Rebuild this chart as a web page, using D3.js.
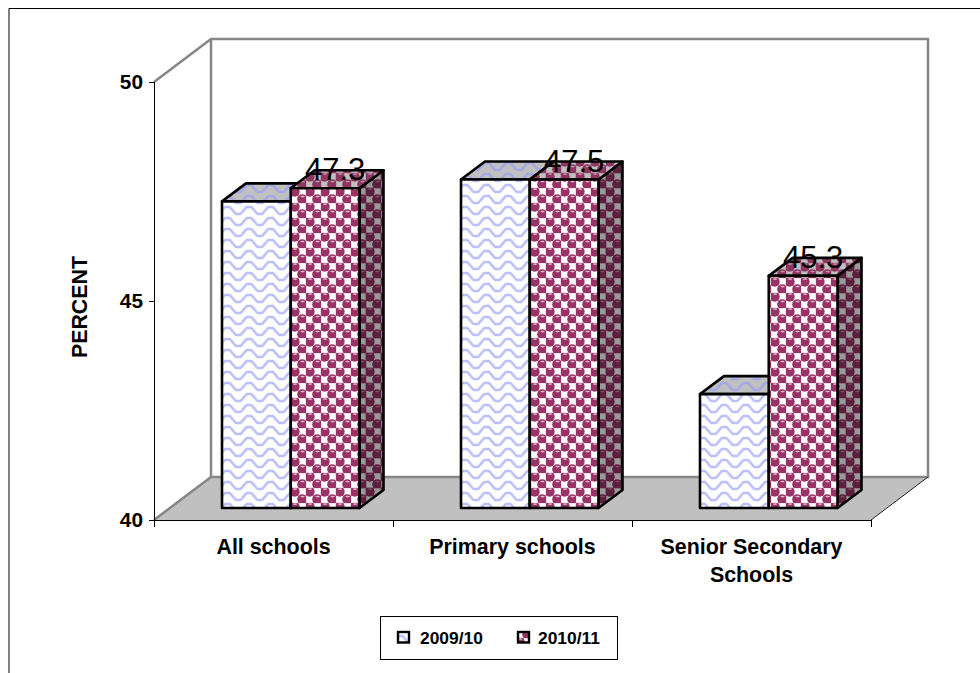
<!DOCTYPE html>
<html>
<head>
<script src="https://cdn.jsdelivr.net/npm/d3@7/dist/d3.min.js"></script>
<style>
  html, body { margin: 0; padding: 0; background: #fff; }
  svg { display: block; }
  text { font-family: "Liberation Sans", Arial, sans-serif; fill: #000; }
  .bold { font-weight: bold; font-size: 21.4px; }
  .tick text { font-weight: bold; font-size: 20.8px; }
  .legendText { font-weight: bold; font-size: 17.4px; }
</style>
</head>
<body>
<svg id="chart" width="980" height="673"></svg>
<script>
const categories = ["All schools", "Primary schools", "Senior Secondary Schools"];
const seriesNames = ["2009/10", "2010/11"];
const values0910 = [47.0, 47.5, 42.6];
const values1011 = [47.3, 47.5, 45.3];
const valueLabels = ["47.3", "47.5", "45.3"];
const yTicks = [40, 45, 50];

const svg = d3.select("#chart");
const defs = svg.append("defs");

function wavePattern(id, bg, stroke) {
  let p = defs.append("pattern").attr("id", id).attr("patternUnits", "userSpaceOnUse")
    .attr("x", 222).attr("y", 205).attr("width", 21.6).attr("height", 11);
  p.append("rect").attr("width", 21.6).attr("height", 11).attr("fill", bg);
  p.append("path").attr("d", "M-5.4,9 L-3,9 L3,2 L7.8,2 L13.8,9 L18.6,9 L24.6,2 L27,2")
    .attr("fill", "none").attr("stroke", stroke).attr("stroke-width", 2.6).attr("stroke-linejoin", "round");
}
function ballPattern(id, bg, square, ball, hi) {
  let p = defs.append("pattern").attr("id", id).attr("patternUnits", "userSpaceOnUse")
    .attr("x", 291).attr("y", 188).attr("width", 15).attr("height", 15);
  p.append("rect").attr("width", 15).attr("height", 15).attr("fill", bg);
  [[11.2, 3.7], [3.7, 11.2]].forEach(c => {
    p.append("rect").attr("x", c[0] - 3.3).attr("y", c[1] - 3.3).attr("width", 6.6).attr("height", 6.6).attr("fill", square);
  });
  [[3.7, 3.7], [11.2, 11.2]].forEach(c => {
    p.append("circle").attr("cx", c[0]).attr("cy", c[1]).attr("r", 5).attr("fill", ball);
    p.append("ellipse").attr("cx", c[0] + 0.4).attr("cy", c[1] - 2.6).attr("rx", 2.2).attr("ry", 0.8).attr("fill", hi);
  });
}
wavePattern("waveFront", "#ffffff", "#bcc0fa");
wavePattern("waveTop", "#c0c0c0", "#a4a8e8");
ballPattern("ballFront", "#e0b8cb", "#ffffff", "#993366", "#e0b8cb");
ballPattern("ballTop", "#a98098", "#c0c0c0", "#8e3560", "#c890a8");
ballPattern("ballSide", "#6e3a55", "#9a9a9a", "#5c1f3d", "#7c4a64");

// frame
svg.append("path").attr("d", "M9,673V8.5H980").attr("fill", "none").attr("stroke", "#000").attr("stroke-width", 1);

const depthX = 57, depthY = -43;
const barDepthX = 24, barDepthY = -18;

const y = d3.scaleLinear().domain([40, 50]).range([520, 82]);
const x = d3.scaleBand().domain(categories).range([154, 871]);
const xInner = d3.scaleBand().domain(seriesNames).range([0, 137.5]);

// walls and floor
const wall = svg.append("g");
wall.append("path")
  .attr("d", `M${x.range()[0]},${y(40)}L${x.range()[0] + depthX},${y(40) + depthY}H${x.range()[1] + depthX}L${x.range()[1]},${y(40)}Z`)
  .attr("fill", "#c0c0c0");
wall.append("path")
  .attr("d", `M${x.range()[0]},${y(50)}L${x.range()[0] + depthX},${y(50) + depthY}H${x.range()[1] + depthX}V${y(40) + depthY}H${x.range()[0] + depthX}V${y(50) + depthY}M${x.range()[0] + depthX},${y(40) + depthY}L${x.range()[0]},${y(40)}`)
  .attr("fill", "none").attr("stroke", "#868686").attr("stroke-width", 2.5);
wall.append("path")
  .attr("d", `M${x.range()[1] + depthX},${y(40) + depthY}L${x.range()[1]},${y(40)}`)
  .attr("stroke", "#222").attr("stroke-width", 1);

// axes
const yAxis = d3.axisLeft(y).tickValues(yTicks).tickSize(5).tickPadding(6);
const yG = svg.append("g").attr("transform", `translate(${x.range()[0]},0)`).call(yAxis);
yG.selectAll("path,line").attr("stroke", "#000");
yG.select(".domain").attr("d", `M0.5,${y(50)}V${y(40)}`);

const edges = d3.scaleLinear().domain([0, 3]).range(x.range());
const xAxis = d3.axisBottom(edges).tickValues([0, 1, 2, 3]).tickSize(7).tickFormat("");
const xG = svg.append("g").attr("transform", `translate(0,${y(40)})`).call(xAxis);
xG.selectAll("path,line").attr("stroke", "#000");
xG.select(".domain").attr("d", `M${x.range()[0]},0.5H${x.range()[1]}`);

// bars, first series first so the second one covers its side
const rows = [];
categories.forEach((c, i) => {
  rows.push({ cat: c, series: seriesNames[0], value: values0910[i], front: "waveFront", top: "waveTop", side: "waveTop" });
  rows.push({ cat: c, series: seriesNames[1], value: values1011[i], front: "ballFront", top: "ballTop", side: "ballSide" });
});
const baseInset = 68, baseLift = 12;
rows.forEach(d => {
  const x0 = x(d.cat) + baseInset + xInner(d.series);
  const x1 = x0 + xInner.bandwidth();
  const y0 = y(40) - baseLift;
  const y1 = y(d.value) - baseLift;
  const g = svg.append("g").attr("stroke", "#000").attr("stroke-width", 2.6).attr("stroke-linejoin", "round");
  g.append("path").attr("fill", `url(#${d.side})`)
    .attr("d", `M${x1},${y1}l${barDepthX},${barDepthY}V${y0 + barDepthY}L${x1},${y0}Z`);
  g.append("path").attr("fill", `url(#${d.top})`)
    .attr("d", `M${x0},${y1}l${barDepthX},${barDepthY}H${x1 + barDepthX}L${x1},${y1}Z`);
  g.append("rect").attr("x", x0).attr("y", y1).attr("width", x1 - x0).attr("height", y0 - y1)
    .attr("fill", `url(#${d.front})`);
});

// value labels on second series
categories.forEach((c, i) => {
  svg.append("text")
    .attr("x", x(c) + baseInset + xInner(seriesNames[1]) + xInner.bandwidth() / 2 + 10)
    .attr("y", y(values1011[i]) - baseLift - 8)
    .attr("text-anchor", "middle").attr("font-size", 31)
    .text(valueLabels[i]);
});

// category labels
categories.forEach(c => {
  const cx = x(c) + x.bandwidth() / 2;
  const t = svg.append("text").attr("class", "bold").attr("text-anchor", "middle").attr("x", cx).attr("y", 554);
  if (c.length > 20) {
    t.text("Senior Secondary");
    svg.append("text").attr("class", "bold").attr("text-anchor", "middle").attr("x", cx).attr("y", 582).text("Schools");
  } else {
    t.text(c);
  }
});

// y title
svg.append("text").attr("class", "bold").attr("text-anchor", "middle")
  .attr("transform", "translate(87,307) rotate(-90)").text("PERCENT");

// legend
const legend = svg.append("g");
legend.append("rect").attr("x", 380.5).attr("y", 616.5).attr("width", 237).attr("height", 43)
  .attr("fill", "#fff").attr("stroke", "#000");
seriesNames.forEach((s, i) => {
  const lx = [398, 518][i];
  legend.append("rect").attr("x", lx).attr("y", 632).attr("width", 11).attr("height", 10.5)
    .attr("fill", `url(#${i ? "ballFront" : "waveFront"})`).attr("stroke", "#000").attr("stroke-width", 2.4);
  legend.append("text").attr("class", "legendText").attr("x", [420, 538][i]).attr("y", 644).text(s);
});
</script>
</body>
</html>
